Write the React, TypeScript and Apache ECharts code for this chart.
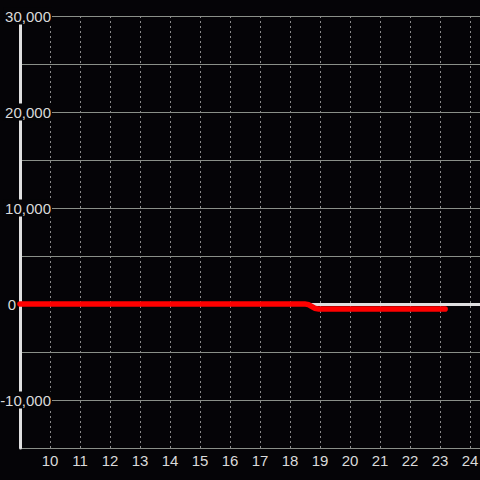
import React, { useEffect, useRef } from "react";
import * as echarts from "echarts";

const redX = [9, 10, 11, 12, 13, 14, 15, 16, 17, 18, 18.5, 18.95, 19.4, 20, 21, 22, 23, 23.17];
const redY = [0, 0, 0, 0, 0, 0, 0, 0, 0, 0, 0, -520, -520, -520, -520, -520, -520, -520];
const xMin = 9;
const xMax = 24.333;
const yMin = -15000;
const yMax = 30000;
const yStep = 5000;
const yLabelStep = 10000;

export default function App() {
  const ref = useRef<HTMLDivElement>(null);
  useEffect(() => {
    if (!ref.current) return;
    const chart = echarts.init(ref.current, null, { renderer: "svg" });
    const bg = "#050407";
    const font = "'Liberation Sans', Arial, sans-serif";
    chart.setOption({
      animation: false,
      backgroundColor: bg,
      grid: {
        left: 20,
        right: 0,
        top: 16,
        bottom: 32,
        containLabel: false,
        outerBoundsMode: "none",
      },
      xAxis: [
        {
          type: "value",
          min: xMin,
          max: xMax,
          interval: 1,
          position: "bottom",
          axisLine: { show: false, onZero: false },
          axisTick: { show: false },
          splitLine: { show: true, lineStyle: { color: "#8a8a8a", type: [2, 3], width: 1 } },
          axisLabel: {
            showMinLabel: false,
            color: "#dadada",
            fontSize: 15,
            fontFamily: font,
            margin: 5,
            formatter: (v: number) => (Number.isInteger(v) && v !== xMin ? String(v) : ""),
          },
        },
        {
          type: "value",
          min: xMin,
          max: xMax,
          position: "top",
          axisLine: { show: true, onZero: true, lineStyle: { color: "#e0e0e0", width: 3 } },
          axisTick: { show: false },
          axisLabel: { show: false },
          splitLine: { show: false },
        },
      ],
      yAxis: {
        type: "value",
        min: yMin,
        max: yMax,
        interval: yStep,
        axisLine: { show: true, onZero: false, lineStyle: { color: "#e0e0e0", width: 3 } },
        axisTick: { show: false },
        splitLine: { show: true, lineStyle: { color: "#8a8f88", width: 1 } },
        axisLabel: {
          margin: -32,
          formatter: (v: number) => {
            if (v % yLabelStep !== 0) return "";
            if (v === 0) return "{z|0}";
            return "{b|" + v.toLocaleString("en-US") + "}";
          },
          rich: {
            b: {
              color: "#dadada",
              fontSize: 15,
              fontFamily: font,
              backgroundColor: bg,
              padding: [1, 1, 1, 2],
            },
            z: {
              color: "#dadada",
              fontSize: 15,
              fontFamily: font,
              padding: [0, 36, 0, 0],
            },
          },
        },
      },
      series: [
        {
          type: "line",
          xAxisIndex: 0,
          data: redX.map((x, i) => [x, redY[i]]),
          smooth: true,
          showSymbol: false,
          symbol: "none",
          clip: false,
          lineStyle: { color: "#ff0000", width: 5.6, cap: "round" },
          z: 5,
        },
      ],
    });
    return () => chart.dispose();
  }, []);
  return (
    <div
      ref={ref}
      style={{ position: "absolute", left: 0, top: 0, width: 480, height: 480 }}
    />
  );
}
